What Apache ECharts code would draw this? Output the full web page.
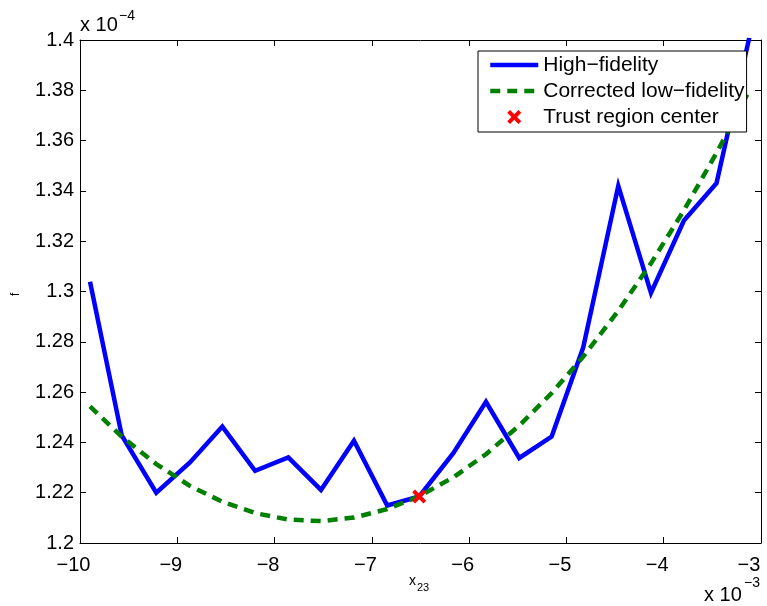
<!DOCTYPE html>
<html>
<head>
<meta charset="utf-8">
<title>f vs x23</title>
<script src="https://cdn.jsdelivr.net/npm/echarts@6/dist/echarts.min.js"></script>
<style>
  html, body { margin: 0; padding: 0; background: #ffffff; }
  #chart { width: 767px; height: 606px; }
</style>
</head>
<body>
<div id="chart"></div>
<script>
// x23 samples, in units of 1e-3
const x23 = [-9.897, -9.571, -9.216, -8.870, -8.537, -8.200, -7.859, -7.523, -7.184, -6.842,
             -6.513, -6.163, -5.827, -5.485, -5.152, -4.827, -4.467, -4.131, -3.792, -3.457, -3.120];
// objective f, in units of 1e-4
const highFidelity = [1.3039, 1.2428, 1.2200, 1.2320, 1.2463, 1.2287, 1.2340, 1.2211, 1.2407, 1.2149,
                      1.2185, 1.2357, 1.2561, 1.2338, 1.2423, 1.2778, 1.3420, 1.2994, 1.3282, 1.3431, 1.4010];
const correctedLowFidelity = [1.2543, 1.2423, 1.2314, 1.2227, 1.2164, 1.2119, 1.2093, 1.2087, 1.2101, 1.2135,
                              1.2186, 1.2261, 1.2353, 1.2467, 1.2596, 1.2741, 1.2923, 1.3112, 1.3323, 1.3551, 1.3799];
const trustCenter = [-6.513, 1.2185];

const seriesNames = ['High\u2212fidelity', 'Corrected low\u2212fidelity', 'Trust region center'];
const xTicks = { min: -10, max: -3, step: 1 };
const yTicks = { min: 1.2, max: 1.4, step: 0.02 };

const FONT = 'Liberation Sans, Arial, Helvetica, sans-serif';
const crossPath = 'path://M0,2 L2,0 L5,3 L8,0 L10,2 L7,5 L10,8 L8,10 L5,7 L2,10 L0,8 L3,5 Z';

const BLUE = '#0000ff', GREEN = '#008000', RED = '#ff0000';
const LINE_W = 4.5, DASH = [10, 7];

const pairs = (xs, ys) => xs.map((x, i) => [x, ys[i]]);
// digits sit centred on the tick, the minus sign hangs to the left;
// the last label is pulled inside the frame
const fmtX = v => {
  const s = String(Math.round(v)).replace('-', '\u2212');
  return Math.round(v) === xTicks.max ? '{last|' + s + '}' : '{n|' + s + '}';
};
const fmtY = v => String(+v.toFixed(2));

const axisLine = { show: true, onZero: false, lineStyle: { color: '#000', width: 1 } };
const tickIn = { show: true, inside: true, length: 6, lineStyle: { color: '#000', width: 1 } };
const labelStyle = { color: '#000', fontFamily: FONT, fontSize: 20 };

const chart = echarts.init(document.getElementById('chart'), null, { renderer: 'canvas' });

chart.setOption({
  animation: false,
  backgroundColor: '#ffffff',
  grid: { left: 80, right: 6, top: 40, bottom: 63, containLabel: false, outerBoundsMode: 'none' },
  xAxis: [
    {
      type: 'value', position: 'bottom', min: xTicks.min, max: xTicks.max, interval: xTicks.step,
      axisLine, axisTick: tickIn, splitLine: { show: false },
      axisLabel: Object.assign({
        margin: 12, formatter: fmtX,
        rich: {
          n: { fontFamily: FONT, fontSize: 20, color: '#000', padding: [0, 13, 0, 0] },
          last: { fontFamily: FONT, fontSize: 20, color: '#000', padding: [0, 24, 0, 0] }
        }
      }, labelStyle)
    },
    {
      type: 'value', position: 'top', min: xTicks.min, max: xTicks.max, interval: xTicks.step,
      axisLine, axisTick: tickIn, splitLine: { show: false }, axisLabel: { show: false }
    }
  ],
  yAxis: [
    {
      type: 'value', position: 'left', min: yTicks.min, max: yTicks.max, interval: yTicks.step,
      axisLine, axisTick: tickIn, splitLine: { show: false },
      axisLabel: Object.assign({ margin: 6, formatter: fmtY }, labelStyle)
    },
    {
      type: 'value', position: 'right', min: yTicks.min, max: yTicks.max, interval: yTicks.step,
      axisLine, axisTick: tickIn, splitLine: { show: false }, axisLabel: { show: false }
    }
  ],
  legend: {
    orient: 'vertical',
    left: 478, top: 51,
    padding: [1, 2, 2, 10],
    itemGap: 0,
    itemWidth: 48, itemHeight: 14,
    backgroundColor: '#ffffff',
    borderColor: '#000', borderWidth: 1, borderRadius: 0,
    textStyle: { color: '#000', fontFamily: FONT, fontSize: 21, lineHeight: 26, padding: [0, 0, 0, 0] },
    data: [
      { name: seriesNames[0], itemStyle: { opacity: 0 },
        lineStyle: { color: BLUE, width: LINE_W, type: 'solid' } },
      { name: seriesNames[1], itemStyle: { opacity: 0 },
        lineStyle: { color: GREEN, width: LINE_W, type: DASH } },
      { name: seriesNames[2] }
    ]
  },
  series: [
    {
      name: seriesNames[0], type: 'line', data: pairs(x23, highFidelity),
      symbol: 'none', showSymbol: false, clip: true, z: 2,
      lineStyle: { color: BLUE, width: LINE_W, join: 'miter' },
      itemStyle: { color: BLUE }
    },
    {
      name: seriesNames[1], type: 'line', data: pairs(x23, correctedLowFidelity),
      symbol: 'none', showSymbol: false, clip: true, z: 3,
      lineStyle: { color: GREEN, width: LINE_W, type: DASH },
      itemStyle: { color: GREEN }
    },
    {
      name: seriesNames[2], type: 'scatter', data: [trustCenter],
      symbol: crossPath, symbolSize: 14, symbolKeepAspect: true, z: 4,
      itemStyle: { color: RED, opacity: 1 }
    }
  ],
  graphic: [
    { type: 'text', left: 80, top: 15, style: { text: 'x 10', fontFamily: FONT, fontSize: 20, fill: '#000' } },
    { type: 'text', left: 119, top: 9, style: { text: '\u22124', fontFamily: FONT, fontSize: 14, fill: '#000' } },
    { type: 'text', left: 704, top: 585, style: { text: 'x 10', fontFamily: FONT, fontSize: 20, fill: '#000' } },
    { type: 'text', left: 744, top: 576, style: { text: '\u22123', fontFamily: FONT, fontSize: 14, fill: '#000' } },
    { type: 'text', left: 409, top: 574, style: { text: 'x', fontFamily: FONT, fontSize: 14, fill: '#000' } },
    { type: 'text', left: 417, top: 582, style: { text: '23', fontFamily: FONT, fontSize: 11, fill: '#000' } },
    { type: 'text', x: 10, y: 296, rotation: Math.PI / 2,
      style: { text: 'f', fontFamily: FONT, fontSize: 12, fill: '#000' } }
  ]
});
</script>
</body>
</html>
